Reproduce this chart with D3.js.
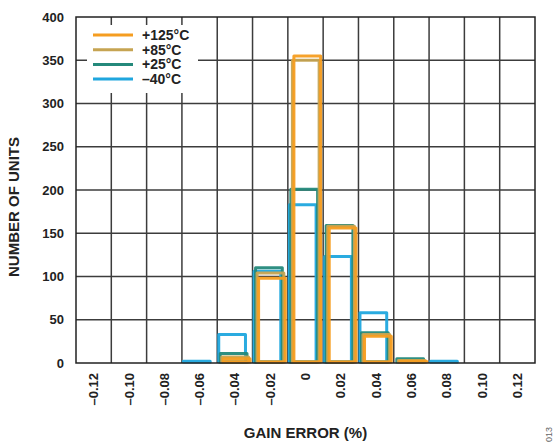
<!DOCTYPE html>
<html>
<head>
<meta charset="utf-8">
<script src="https://cdn.jsdelivr.net/npm/d3@7"></script>
<style>
  html, body { margin: 0; padding: 0; background: #fff; }
  svg { display: block; font-family: "Liberation Sans", Arial, sans-serif; }
</style>
</head>
<body>
<svg id="chart" width="554" height="442"></svg>
<script>
// ---- data ----
const categories = ["–0.12", "–0.10", "–0.08", "–0.06", "–0.04", "–0.02", "0", "0.02", "0.04", "0.06", "0.08", "0.10", "0.12"];
const seriesNames = ["–40°C", "+25°C", "+85°C", "+125°C"];
const valsM40  = [0, 0, 0, 2, 33, 106, 183, 123, 58, 0, 2, 0, 0];
const vals25   = [0, 0, 0, 0, 11, 110, 201, 159, 35, 5, 0, 0, 0];
const vals85   = [0, 0, 0, 0, 7, 104, 350, 158, 33, 3, 0, 0, 0];
const vals125  = [0, 0, 0, 0, 5, 98, 355, 156, 31, 2, 0, 0, 0];
const yTicks = [0, 50, 100, 150, 200, 250, 300, 350, 400];
const colors = ["#1fa6de", "#24897b", "#c6a452", "#f59d20"];
const legendOrder = ["+125°C", "+85°C", "+25°C", "–40°C"];

const series = [valsM40, vals25, vals85, vals125];

// ---- layout ----
const L = 76, R = 535, T = 17, B = 363;
const svg = d3.select("#chart");

const x = d3.scaleBand().domain(categories).range([L, R]).padding(0);
const y = d3.scaleLinear().domain([0, 400]).range([B, T]);
const bw = x.bandwidth();
const off = d3.scaleLinear().domain([0, 3]).range([1.5, bw * 0.2 - 1]);
const barW = bw * 0.8 - 1.5;

// gridlines
const grid = svg.append("g").attr("stroke", "#3c3c3c").attr("stroke-width", 1.5);
yTicks.slice(1, -1).forEach(t => {
  grid.append("line").attr("x1", L).attr("x2", R).attr("y1", y(t)).attr("y2", y(t));
});
categories.slice(1).forEach(c => {
  grid.append("line").attr("x1", x(c)).attr("x2", x(c)).attr("y1", T).attr("y2", B);
});

// legend background (covers grid)
const lg = svg.append("g");
lg.append("rect").attr("x", 87).attr("y", 25).attr("width", 111).attr("height", 68).attr("fill", "#fff");

// bars
series.forEach((vals, si) => {
  const g = svg.append("g");
  vals.forEach((v, i) => {
    if (v <= 0) return;
    const x0 = x(categories[i]) + off(si);
    g.append("rect")
      .attr("x", x0)
      .attr("y", y(v))
      .attr("width", barW)
      .attr("height", Math.max(0.5, y(0) - y(v) - 1))
      .attr("fill", "none")
      .attr("stroke", colors[si])
      .attr("stroke-width", 3)
      .attr("stroke-linejoin", "round")
      .attr("opacity", 0.95);
  });
});

// frame
svg.append("rect").attr("x", L).attr("y", T).attr("width", R - L).attr("height", B - T)
  .attr("fill", "none").attr("stroke", "#222").attr("stroke-width", 1.5);

// y axis labels
const yAxis = d3.axisLeft(y).tickValues(yTicks).tickSize(0).tickPadding(12);
const yg = svg.append("g").attr("transform", `translate(${L},0)`).call(yAxis);
yg.select(".domain").remove();
yg.selectAll("text").attr("font-size", 13).attr("font-weight", "bold").attr("fill", "#222")
  .attr("font-family", "'Liberation Sans', Arial, sans-serif");

// x axis labels (rotated)
const xAxis = d3.axisBottom(x).tickSize(0).tickPadding(0);
const xg = svg.append("g").attr("transform", `translate(0,${B})`).call(xAxis);
xg.select(".domain").remove();
xg.selectAll("text")
  .attr("font-size", 13).attr("font-weight", "bold").attr("fill", "#222")
  .attr("font-family", "'Liberation Sans', Arial, sans-serif")
  .attr("transform", "rotate(-90)")
  .attr("text-anchor", "end")
  .attr("x", -10).attr("y", 0).attr("dy", "0.35em");

// axis titles
svg.append("text").attr("x", (L + R) / 2).attr("y", 438)
  .attr("text-anchor", "middle").attr("font-size", 15).attr("font-weight", "bold").attr("fill", "#222")
  .text("GAIN ERROR (%)");
svg.append("text").attr("transform", "translate(19,207) rotate(-90)")
  .attr("text-anchor", "middle").attr("font-size", 15).attr("font-weight", "bold").attr("fill", "#222")
  .text("NUMBER OF UNITS");

// legend entries
legendOrder.forEach((name, i) => {
  const si = seriesNames.indexOf(name);
  const yy = 35 + i * 14.7;
  lg.append("line").attr("x1", 93).attr("x2", 133).attr("y1", yy).attr("y2", yy)
    .attr("stroke", colors[si]).attr("stroke-width", 3);
  lg.append("text").attr("x", 142).attr("y", yy).attr("dy", "0.35em")
    .attr("font-size", 14).attr("font-weight", "bold").attr("fill", "#222").text(name);
});

// figure id (partially cut at the edge)
svg.append("text").attr("transform", "translate(552,442) rotate(-90)")
  .attr("text-anchor", "start").attr("font-size", 9).attr("fill", "#666").text("013");
</script>
</body>
</html>
